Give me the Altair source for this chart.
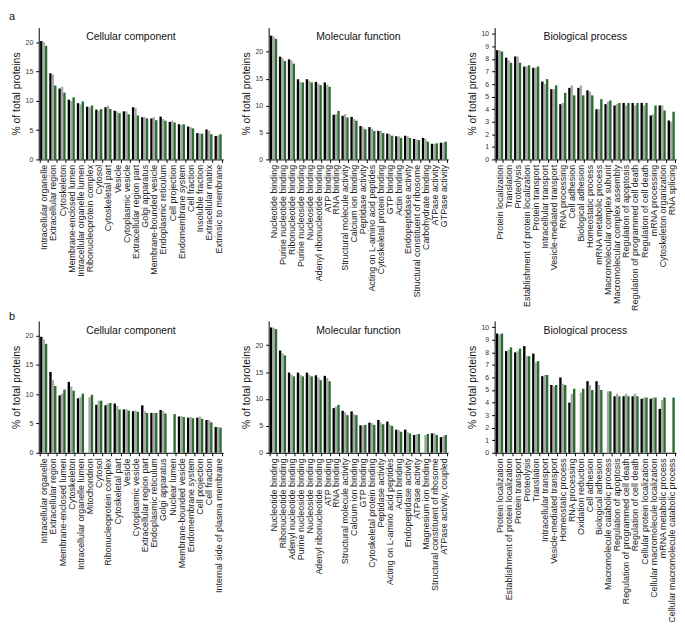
import altair as alt
import pandas as pd

SERIES = ["Black", "Gray", "Green"]
COLORS = ["#000000", "#a8a8a8", "#2a6e2e"]
FONT = "Liberation Sans"

# ---------------- panel a ----------------
A_CC_LABELS = ["Intracellular organelle", "Extracellular region", "Cytoskeleton",
               "Membrane-enclosed lumen", "Intracellular organelle lumen",
               "Ribonucleoprotein complex", "Cytosol", "Cytoskeletal part", "Vesicle",
               "Cytoplasmic vesicle", "Extracellular region part", "Golgi apparatus",
               "Membrane-bounded vesicle", "Endoplasmic reticulum", "Cell projection",
               "Endomembrane system", "Cell fraction", "Insoluble fraction",
               "Extracellular matrix", "Extrinsic to membrane"]
A_CC_BLACK = [20.2, 14.7, 12.1, 10.2, 9.6, 9.0, 8.5, 8.9, 8.3, 8.2, 8.9, 7.2, 7.0, 7.3, 6.4, 6.0, 5.6, 4.5, 5.1, 4.0]
A_CC_GRAY = [20.0, 14.5, 12.4, 10.0, 9.4, 8.9, 8.3, 9.2, 8.2, 8.2, 8.8, 7.2, 7.2, 6.9, 6.6, 5.9, 5.5, 4.4, 4.9, 4.1]
A_CC_GREEN = [19.4, 12.6, 11.4, 10.6, 9.9, 9.2, 8.6, 8.6, 7.9, 7.7, 7.5, 7.0, 6.7, 6.6, 6.3, 6.0, 5.3, 4.4, 4.3, 4.3]

A_MF_LABELS = ["Nucleotide binding", "Purine nucleotide binding", "Ribonucleotide binding",
               "Purine nucleoside binding", "Nucleoside binding",
               "Adenyl ribonucleotide binding", "ATP binding", "RNA binding",
               "Structural molecule activity", "Calcium ion binding", "Peptidase activity",
               "Acting on L-amino acid peptides", "Cytoskeletal protein binding",
               "GTP binding", "Actin binding", "Endopeptidase activity",
               "Structural constituent of ribosome", "Carbohydrate binding",
               "ATPase activity", "GTPase activity"]
A_MF_BLACK = [23.0, 19.1, 18.6, 14.9, 14.9, 14.4, 14.3, 8.3, 8.1, 7.9, 6.2, 6.0, 5.3, 4.8, 4.3, 4.4, 3.8, 4.0, 2.9, 3.1]
A_MF_GRAY = [22.8, 18.8, 18.4, 14.4, 14.6, 14.1, 13.9, 8.4, 8.4, 7.5, 6.0, 5.7, 5.3, 4.7, 4.3, 4.3, 3.7, 3.8, 2.9, 3.1]
A_MF_GREEN = [22.4, 18.3, 17.8, 14.3, 14.3, 13.8, 13.5, 9.0, 7.8, 7.2, 5.6, 5.3, 4.9, 4.4, 4.0, 4.0, 3.6, 3.3, 3.0, 3.3]

A_BP_LABELS = ["Protein localization", "Translation", "Proteolysis",
               "Establishment of protein localization", "Protein transport",
               "Intracellular transport", "Vesicle-mediated transport", "RNA processing",
               "Cell adhesion", "Biological adhesion", "Homeostatic process",
               "mRNA metabolic process", "Macromolecular complex subunit",
               "Macromolecular complex assembly", "Regulation of apoptosis",
               "Regulation of programmed cell death", "Regulation of cell death",
               "mRNA processing", "Cytoskeleton organization", "RNA splicing"]
A_BP_BLACK = [8.7, 8.1, 8.2, 7.4, 7.3, 6.2, 5.6, 4.4, 5.7, 5.7, 5.5, 4.0, 4.4, 4.3, 4.5, 4.5, 4.5, 3.5, 4.3, 3.1]
A_BP_GRAY = [8.7, 7.9, 8.2, 7.4, 7.3, 6.0, 5.6, 4.5, 5.9, 5.9, 5.4, 4.0, 4.6, 4.4, 4.3, 4.3, 4.3, 3.6, 4.3, 3.0]
A_BP_GREEN = [8.6, 7.7, 7.7, 7.5, 7.4, 6.4, 5.9, 5.3, 5.1, 5.1, 5.1, 4.8, 4.7, 4.5, 4.5, 4.5, 4.5, 4.3, 3.9, 3.8]

# ---------------- panel b ----------------
B_CC_LABELS = ["Intracellular organelle", "Extracellular region", "Membrane-enclosed lumen",
               "Cytoskeleton", "Intracellular organelle lumen", "Mitochondrion", "Cytosol",
               "Ribonucleoprotein complex", "Cytoskeletal part", "Vesicle",
               "Cytoplasmic vesicle", "Extracellular region part", "Endoplasmic reticulum",
               "Golgi apparatus", "Nuclear lumen", "Membrane-bounded vesicle",
               "Endomembrane system", "Cell projection", "Cell fraction",
               "Internal side of plasma membrane"]
B_CC_BLACK = [19.8, 13.8, 9.8, 12.1, 9.3, 0, 8.2, 8.1, 8.4, 7.4, 7.1, 8.1, 6.8, 7.3, 0, 6.2, 6.0, 6.0, 5.6, 4.4]
B_CC_GRAY = [19.4, 12.4, 10.1, 11.3, 9.5, 9.5, 8.9, 8.4, 8.0, 7.4, 7.2, 7.1, 6.8, 7.1, 0, 6.3, 6.1, 6.2, 5.6, 4.4]
B_CC_GREEN = [18.6, 11.4, 10.8, 10.6, 10.1, 9.9, 8.9, 8.5, 7.4, 7.2, 7.0, 6.8, 6.8, 6.7, 6.6, 6.1, 5.9, 5.8, 5.2, 4.3]

B_MF_LABELS = ["Nucleotide binding", "Ribonucleotide binding", "Adenyl nucleotide binding",
               "Purine nucleoside binding", "Nucleoside binding",
               "Adenyl ribonucleotide binding", "ATP binding", "RNA binding",
               "Structural molecule activity", "Calcium ion binding", "GTP binding",
               "Cytoskeletal protein binding", "Peptidase activity",
               "Acting on L-amino acid peptides", "Actin binding", "Endopeptidase activity",
               "ATPase activity", "Magnesium ion binding",
               "Structural constituent of ribosome", "ATPase activity, coupled"]
B_MF_BLACK = [23.3, 19.0, 14.9, 14.9, 14.9, 14.4, 14.3, 8.3, 7.8, 7.7, 5.1, 5.6, 6.1, 5.8, 4.3, 4.3, 3.3, 0, 3.6, 2.9]
B_MF_GRAY = [23.2, 18.5, 14.5, 14.5, 14.5, 14.0, 13.9, 8.6, 7.5, 7.2, 5.1, 5.5, 5.6, 5.2, 4.2, 3.9, 3.4, 3.3, 3.6, 3.1]
B_MF_GREEN = [23.0, 18.1, 14.2, 14.2, 14.2, 13.5, 13.3, 8.9, 7.0, 7.0, 5.2, 5.2, 5.3, 5.0, 3.9, 3.6, 3.5, 3.5, 3.3, 3.3]

B_BP_LABELS = ["Protein localization", "Establishment of protein localization",
               "Protein transport", "Proteolysis", "Translation", "Intracellular transport",
               "Vesicle-mediated transport", "Homeostatic process", "RNA processing",
               "Oxidation reduction", "Cell adhesion", "Biological adhesion",
               "Macromolecule catabolic process", "Regulation of apoptosis",
               "Regulation of programmed cell death", "Regulation of cell death",
               "Cellular protein localization", "Cellular macromolecule localization",
               "mRNA metabolic process", "Cellular macromolecule catabolic process"]
B_BP_BLACK = [9.5, 8.1, 8.0, 8.5, 7.9, 6.1, 5.4, 6.0, 4.0, 0, 5.7, 5.7, 0, 4.5, 4.5, 4.5, 4.3, 4.3, 3.5, 0]
B_BP_GRAY = [9.4, 8.2, 8.1, 7.7, 7.2, 6.2, 5.3, 5.5, 4.7, 4.8, 5.4, 5.4, 4.9, 4.7, 4.7, 4.7, 4.4, 4.4, 4.2, 0]
B_BP_GREEN = [9.5, 8.4, 8.3, 7.7, 7.3, 6.2, 5.4, 5.4, 5.1, 5.1, 5.0, 5.0, 4.9, 4.5, 4.5, 4.5, 4.4, 4.4, 4.4, 4.4]

TICKS_PCT = [0, 5, 10, 15, 20]
TICKS_BP = [0, 1, 2, 3, 4, 5, 6, 7, 8, 9, 10]

HEIGHT = 133


def panel(title, labels, black, gray, green, width, ymax, ticks, tag=None, tag_y=0):
    rows = []
    for i, lab in enumerate(labels):
        for s, vals in zip(SERIES, (black, gray, green)):
            rows.append({"cat": lab, "series": s, "v": vals[i]})
    df = pd.DataFrame(rows)
    bars = alt.Chart(df).transform_filter("datum.v > 0").mark_bar().encode(
        x=alt.X("cat:N", sort=labels,
                scale=alt.Scale(domain=labels, paddingInner=0.22, paddingOuter=0.15),
                axis=alt.Axis(title=None, labelAngle=-90, labelFontSize=9, labelLimit=0,
                              labelOverlap=False, tickSize=3, tickBand="extent",
                              labelPadding=2, labelColor="#222222", labelFont=FONT)),
        xOffset=alt.XOffset("series:N",
                            scale=alt.Scale(domain=SERIES, paddingInner=0, paddingOuter=0)),
        y=alt.Y("v:Q", scale=alt.Scale(domain=[0, ymax], nice=False, zero=True),
                axis=alt.Axis(title="% of total proteins", values=ticks, grid=False,
                              labelFontSize=7, labelColor="#333333", labelFont=FONT,
                              tickSize=3, labelPadding=3, minExtent=14, maxExtent=14,
                              titlePadding=3, titleFontSize=10.5, titleFontWeight="normal",
                              titleFont=FONT, titleColor="#111111")),
        color=alt.Color("series:N", scale=alt.Scale(domain=SERIES, range=COLORS), legend=None),
    )
    ttl = alt.Chart(pd.DataFrame({"t": [title]})).mark_text(
        font=FONT, fontSize=10.5, align="center", baseline="middle", color="#111111"
    ).encode(x=alt.value(width / 2), y=alt.value(10), text="t:N")
    layers = [bars, ttl]
    if tag:
        tg = alt.Chart(pd.DataFrame({"t": [tag]})).mark_text(
            font=FONT, fontSize=11, align="left", baseline="top", color="#111111"
        ).encode(x=alt.value(-30), y=alt.value(tag_y), text="t:N")
        layers.append(tg)
    return alt.layer(*layers).properties(width=width, height=HEIGHT)


cells = [
    panel("Cellular component", A_CC_LABELS, A_CC_BLACK, A_CC_GRAY, A_CC_GREEN, 186, 22.5, TICKS_PCT, "a", -17),
    panel("Molecular function", A_MF_LABELS, A_MF_BLACK, A_MF_GRAY, A_MF_GREEN, 181, 24.5, TICKS_PCT),
    panel("Biological process", A_BP_LABELS, A_BP_BLACK, A_BP_GRAY, A_BP_GREEN, 183, 10.5, TICKS_BP),
    panel("Cellular component", B_CC_LABELS, B_CC_BLACK, B_CC_GRAY, B_CC_GREEN, 186, 22.5, TICKS_PCT, "b", -10),
    panel("Molecular function", B_MF_LABELS, B_MF_BLACK, B_MF_GRAY, B_MF_GREEN, 181, 24.5, TICKS_PCT),
    panel("Biological process", B_BP_LABELS, B_BP_BLACK, B_BP_GRAY, B_BP_GREEN, 183, 10.5, TICKS_BP),
]

chart = alt.concat(*cells, columns=3, spacing=alt.RowColnumber(row=0, column=19)).properties(
    padding={"left": 1, "top": 0, "right": 0, "bottom": 0}
).configure(font=FONT).configure_view(stroke=None).configure_axis(
    domainColor="#000000", tickColor="#000000", domainWidth=1, tickWidth=1
)

chart.save("out.html", embed_options={"renderer": "svg", "actions": False})
